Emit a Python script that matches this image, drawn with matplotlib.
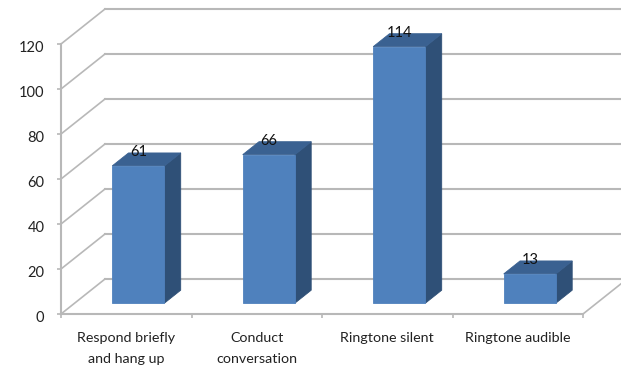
#!/usr/bin/env python3

from matplotlib import pyplot as plt
from matplotlib.patches import Polygon
from matplotlib.transforms import ScaledTranslation
import numpy as np

categories = ['Respond briefly\nand hang up', 'Conduct\nconversation',
              'Ringtone silent', 'Ringtone audible']
values = [61, 66, 114, 13]
y_ticks = [0, 20, 40, 60, 80, 100, 120]

FIG_W, FIG_H = 621, 366
LEFT, RIGHT, TOP, BOTTOM = 61, 583, 44, 314  # plot box in pixels

# oblique projection of the depth axis, in data units
DEPTH_X = 44 / ((RIGHT - LEFT) / 4)
DEPTH_Y = 35 / ((BOTTOM - TOP) / 120)

BAR_WIDTH = 0.40
BAR_NEAR = 0.31
BAR_FAR = 0.68
BAR_SHIFT = -0.012  # bars sit slightly left of the category centre

GRID = '#b8b8b8'
FRONT = '#4f81bd'
SIDE = '#2f5077'
ROOF = '#3a6191'


def project(x, y, depth):
    return x + depth * DEPTH_X, y + depth * DEPTH_Y


def draw_walls(ax):
    for v in y_ticks:
        # back wall gridline, then its diagonal down the side wall
        x0, y0 = project(0, v, 1)
        x1, y1 = project(4.5, v, 1)
        ax.plot([x0, x1], [y0, y1], color=GRID, lw=1.5, clip_on=False, zorder=1)
        ax.plot([0, x0], [v, y0], color=GRID, lw=1.2, clip_on=False, zorder=1)
    x1, y1 = project(4, 0, 1)
    ax.plot([4, x1], [0, y1], color=GRID, lw=1.2, clip_on=False, zorder=1)


def draw_bar(ax, center, value):
    x0 = center - BAR_WIDTH / 2
    x1 = center + BAR_WIDTH / 2
    front = [project(x0, 0, BAR_NEAR), project(x1, 0, BAR_NEAR),
             project(x1, value, BAR_NEAR), project(x0, value, BAR_NEAR)]
    side = [project(x1, 0, BAR_NEAR), project(x1, 0, BAR_FAR),
            project(x1, value, BAR_FAR), project(x1, value, BAR_NEAR)]
    roof = [project(x0, value, BAR_NEAR), project(x1, value, BAR_NEAR),
            project(x1, value, BAR_FAR), project(x0, value, BAR_FAR)]
    for pts, color in ((side, SIDE), (roof, ROOF), (front, FRONT)):
        ax.add_patch(Polygon(pts, closed=True, facecolor=color, edgecolor=color,
                             lw=0.6, clip_on=False, zorder=3))
    tx, ty = project(center, value, BAR_NEAR)
    ax.annotate(str(value), (tx, ty), xytext=(0, 14 * 72 / 100), textcoords='offset points',
                ha='center', va='center', fontsize=10.5, color='#111111', zorder=4)


plt.rcParams['font.family'] = ['Lato', 'DejaVu Sans']

fig = plt.figure(figsize=(FIG_W / 100, FIG_H / 100), dpi=100)
ax = fig.add_axes([LEFT / FIG_W, 1 - BOTTOM / FIG_H,
                   (RIGHT - LEFT) / FIG_W, (BOTTOM - TOP) / FIG_H])
ax.set_xlim(0, 4)
ax.set_ylim(0, 120)
ax.patch.set_visible(False)

for name in ('top', 'right'):
    ax.spines[name].set_visible(False)
for name in ('left', 'bottom'):
    ax.spines[name].set_color(GRID)
    ax.spines[name].set_linewidth(1.5)

draw_walls(ax)
for i, v in enumerate(values):
    draw_bar(ax, i + 0.5 + BAR_SHIFT, v)

ax.set_yticks(y_ticks)
ax.tick_params(axis='y', length=3, width=1.2, color=GRID, labelsize=10.5,
               labelcolor='#222222', pad=9)

# ticks sit on the category boundaries, labels between them
ax.set_xticks(np.arange(5))
ax.set_xticklabels([])
ax.set_xticks(np.arange(4) + 0.5, minor=True)
ax.set_xticklabels(categories, minor=True, fontsize=10.3, color='#222222', linespacing=1.85)
ax.tick_params(axis='x', which='major', length=3, width=1.2, color=GRID)
ax.tick_params(axis='x', which='minor', length=0, pad=13)

# nudge the value labels down a little
nudge = ScaledTranslation(0, -1.5 / 72, fig.dpi_scale_trans)
for label in ax.get_yticklabels():
    label.set_transform(label.get_transform() + nudge)

fig.savefig('out.png', dpi=100)
